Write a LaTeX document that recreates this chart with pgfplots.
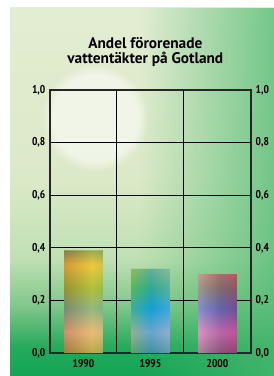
\documentclass[border=0pt]{standalone}
\usepackage{fontspec}
\setmainfont{PT Sans Narrow}
\newfontfamily\titlefont{PT Sans}
\usepackage{pgfplots}
\pgfplotsset{compat=1.18}
\usetikzlibrary{fadings}

\definecolor{bgA}{HTML}{12A456}
\definecolor{bgB}{HTML}{26AA5C}
\definecolor{bgC}{HTML}{80C78A}
\definecolor{bgD}{HTML}{C0E0B4}
\definecolor{bgE}{HTML}{DCE9C8}
\definecolor{bgF}{HTML}{E3EDD2}
\definecolor{bgRight}{HTML}{4FBA72}

\definecolor{b1}{HTML}{C07E30}
\definecolor{b2}{HTML}{F0C840}
\definecolor{b3}{HTML}{7CC04E}
\definecolor{b4}{HTML}{14A2D0}
\definecolor{b5}{HTML}{6EB4DC}
\definecolor{b6}{HTML}{D890C8}
\definecolor{b7}{HTML}{9C3C90}
\definecolor{b8}{HTML}{B41478}

\definecolor{v1}{HTML}{2E7E68}
\definecolor{v2}{HTML}{F0C840}
\definecolor{v3}{HTML}{58B438}
\definecolor{v4}{HTML}{109ED8}
\definecolor{v5}{HTML}{E8A8C8}
\definecolor{v6}{HTML}{687C58}

\pgfdeclareverticalshading{bgshade}{100bp}{color(0bp)=(bgA); color(25bp)=(bgA); color(29bp)=(bgB); color(34.5bp)=(bgC); color(41bp)=(bgD); color(52bp)=(bgE); color(75bp)=(bgF); color(100bp)=(bgF)}
\pgfdeclarehorizontalshading{barh}{100bp}{color(0bp)=(b1); color(25bp)=(b1); color(33bp)=(b2); color(42bp)=(b3); color(50bp)=(b4); color(57bp)=(b5); color(63bp)=(b6); color(70bp)=(b7); color(75bp)=(b8); color(100bp)=(b8)}
\pgfdeclareverticalshading{barv}{100bp}{color(0bp)=(v6); color(25bp)=(v6); color(35bp)=(v5); color(47bp)=(v4); color(57bp)=(v3); color(68bp)=(v2); color(75bp)=(v1); color(100bp)=(v1)}

\begin{document}
\begin{tikzpicture}
\useasboundingbox (0pt,0pt) rectangle (205.5pt,282pt);
% background
\shade[shading=bgshade] (7.5pt,0pt) rectangle (205.5pt,276pt);
\fill[bgRight, opacity=0.75, path fading=west] (105pt,0pt) rectangle (205.5pt,276pt);
\fill[white, opacity=0.55, path fading=circle with fuzzy edge 20 percent] (71.25pt,193.5pt) circle (40pt);

% title
\node[anchor=base, inner sep=0pt, font=\titlefont\bfseries\fontsize{11.5}{13}\selectfont] at (109pt,246pt) {Andel förorenade};
\node[anchor=base, inner sep=0pt, font=\titlefont\bfseries\fontsize{11.5}{13}\selectfont] at (109pt,234.5pt) {vattentäkter på Gotland};

\begin{axis}[
  at={(37.5pt,17.25pt)}, anchor=south west,
  scale only axis, width=150.75pt, height=197.25pt,
  xmin=-0.5, xmax=2.5, ymin=0, ymax=1,
  ybar,
  xtick={0,1,2}, xticklabels={1990,1995,2000},
  minor xtick={0.5,1.5},
  xminorgrids, xmajorgrids=false, ymajorgrids,
  ytick={0,0.2,0.4,0.6,0.8,1},
  major tick length=0pt, minor tick length=0pt,
  tick label style={font=\bfseries\fontsize{8.5}{10}\selectfont},
  yticklabel style={/pgf/number format/fixed, /pgf/number format/fixed zerofill, /pgf/number format/precision=1, /pgf/number format/use comma, /pgf/number format/assume math mode=true},
  xticklabel style={yshift=-1.5pt},
  axis line style={black!85, line width=1pt},
  major grid style={black, line width=0.75pt},
  minor grid style={black, line width=0.75pt},
]
\addplot[bar width=0.58, bar shift=0pt, draw=none, shade, shading=barh] coordinates {(0,0.39) (1,0.32) (2,0.30)};
\addplot[bar width=0.58, bar shift=0pt, draw=none, shade, shading=barv, fill opacity=0.4] coordinates {(0,0.39) (1,0.32) (2,0.30)};
\end{axis}

\begin{axis}[
  at={(37.5pt,17.25pt)}, anchor=south west,
  scale only axis, width=150.75pt, height=197.25pt,
  xmin=-0.5, xmax=2.5, ymin=0, ymax=1,
  axis y line*=right, axis x line=none,
  axis line style={draw=none},
  ytick={0,0.2,0.4,0.6,0.8,1},
  major tick length=0pt,
  tick label style={font=\bfseries\fontsize{8.5}{10}\selectfont},
  yticklabel style={/pgf/number format/fixed, /pgf/number format/fixed zerofill, /pgf/number format/precision=1, /pgf/number format/use comma, /pgf/number format/assume math mode=true},
]
\addplot[draw=none] coordinates {(0,0)};
\end{axis}
\end{tikzpicture}
\end{document}
